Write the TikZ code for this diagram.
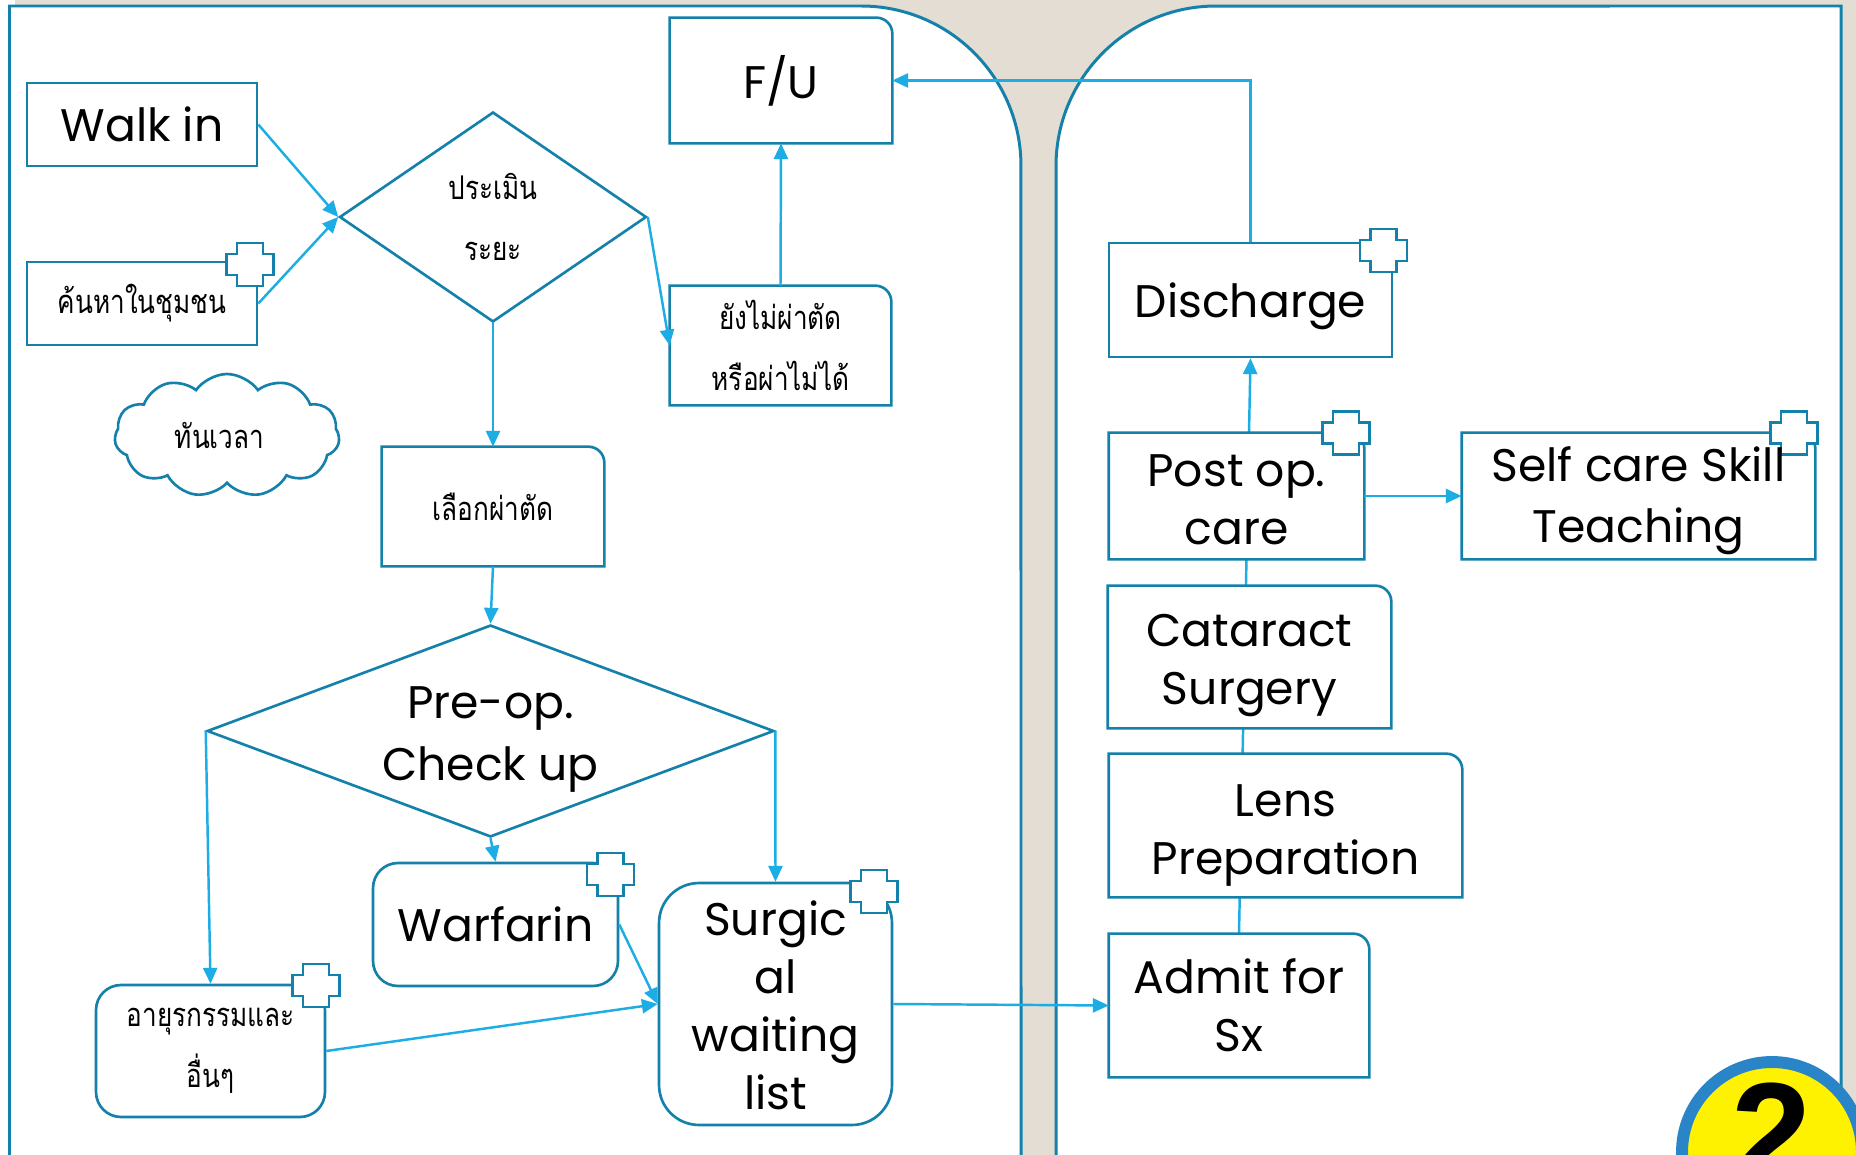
\documentclass[tikz,border=0pt]{standalone}
\usepackage{fontspec}
\setmainfont{Poppins}
\newfontfamily\thaifont[Script=Thai,FakeStretch=0.8]{Loma}
\usetikzlibrary{shapes.geometric,shapes.symbols,arrows.meta,calc,backgrounds}

\definecolor{paneltan}{HTML}{E3DDD3}
\definecolor{boxblue}{HTML}{1481AB}
\definecolor{arrowblue}{HTML}{1CADE4}
\definecolor{badgeblue}{HTML}{2A85C8}
\newcommand{\lowerline}[1]{\rule{0pt}{#1}}

\begin{document}
\begin{tikzpicture}[x=0.02cm,y=-0.02cm]
\tikzset{
	base/.style = { rectangle, text centered, align=center, inner sep=0pt },
	boxed/.style = { base, draw=boxblue, line width=1.5pt, fill=white },
	rounded/.style = { boxed, rounded corners=0.5cm },
	plain/.style = { base, fill=white },
	latintext/.style = { font=\fontsize{26}{33}\selectfont },
	thaitext/.style = { font=\thaifont\fontsize{18.6}{35}\selectfont },
	decision/.style = { diamond, draw=boxblue, line width=1.5pt, fill=white, text centered, align=center, inner sep=0pt },
	arrow/.style = { line width=1.4pt, draw=arrowblue, -{Triangle[length=9pt,width=8pt]} },
	outline/.style = { draw=boxblue, line width=1.5pt },
	plus/.pic = { \draw[outline, fill=white] (-23.5,-10.5) -- (-13,-10.5) -- (-13,-21.5) -- (13,-21.5) -- (13,-10.5) -- (23.5,-10.5) -- (23.5,10.5) -- (13,10.5) -- (13,21.5) -- (-13,21.5) -- (-13,10.5) -- (-23.5,10.5) -- cycle; }
}

	\useasboundingbox (0,0) rectangle (1856,1155);
	\clip (0,0) rectangle (1856,1155);

	% left panel
	\node (walkIn) [boxed, latintext, minimum width=4.6cm, minimum height=1.66cm] at (142,124.5) {Walk in};
	\node (search) [boxed, thaitext, minimum width=4.6cm, minimum height=1.66cm] at (142,303.5) {ค้นหาในชุมชน};
	\node (assess) [decision, thaitext, minimum width=6.14cm, minimum height=4.2cm, aspect=1.46] at (493,217) {ประเมิน\\ระยะ};
	\node (followUp) [plain, latintext, minimum width=4.44cm, minimum height=2.5cm] at (781,80.5) {F/U};
	\node (notYet) [plain, thaitext, minimum width=4.42cm, minimum height=2.38cm] at (780.5,345.5) {ยังไม่ผ่าตัด\\หรือผ่าไม่ได้};
	\node (inTime) [cloud, cloud puffs=11, cloud puff arc=110, aspect=1.8, outline, fill=white, thaitext, align=center, inner sep=0pt, minimum width=4.5cm, minimum height=2.46cm] at (227,435.5) {ทันเวลา\hspace{0.3cm}};
	\node (choose) [plain, thaitext, minimum width=4.44cm, minimum height=2.38cm] at (493,506.5) {เลือกผ่าตัด};
	\node (preOp) [decision, latintext, minimum width=11.34cm, minimum height=4.24cm, aspect=2.67] at (490.5,731) {\lowerline{28pt}Pre-op.\\[2pt]Check up};
	\node (warfarin) [rounded, latintext, minimum width=4.9cm, minimum height=2.46cm] at (495.5,924.5) {Warfarin};
	\node (medicine) [rounded, thaitext, minimum width=4.58cm, minimum height=2.64cm] at (210.5,1051) {อายุรกรรมและ\\อื่นๆ};
	\node (waitList) [rounded, rounded corners=0.8cm, latintext, minimum width=4.66cm, minimum height=4.84cm] at (775.5,1004) {\lowerline{21.6pt}Surgic\\al\\waiting\\list};

	% right panel
	\node (discharge) [boxed, latintext, minimum width=5.66cm, minimum height=2.28cm] at (1250.5,300) {\lowerline{27pt}Discharge};
	\node (postOp) [plain, latintext, minimum width=5.1cm, minimum height=2.52cm] at (1236.5,496) {\lowerline{22pt}Post op.\\care};
	\node (selfCare) [plain, minimum width=7.06cm, minimum height=2.52cm] at (1638.5,496) {};
	\node (cataract) [plain, latintext, minimum width=5.66cm, minimum height=2.84cm] at (1249.5,657) {\lowerline{28.5pt}Cataract\\Surgery};
	\node (lens) [plain, latintext, minimum width=7.06cm, minimum height=2.86cm] at (1285.5,825.5) {\lowerline{30pt}Lens\\Preparation};
	\node (admit) [plain, latintext, minimum width=5.2cm, minimum height=2.86cm] at (1239,1005.5) {Admit for\\Sx};

	% boxes with one round corner
	\foreach \boxname in {followUp,notYet,choose,postOp,selfCare,cataract,lens,admit} {
		\draw [outline] (\boxname.south west) -- (\boxname.north west) -- ($(\boxname.north east)+(-16,0)$) arc[start angle=90,end angle=0,radius=0.32cm] -- (\boxname.south east) -- cycle;
	}

	% crosses
	\pic at (250,264.5) {plus};
	\pic at (610.5,874.5) {plus};
	\pic at (874,891.5) {plus};
	\pic at (316,985.5) {plus};
	\pic at (1383.5,250.5) {plus};
	\pic at (1346,433) {plus};
	\pic at (1794,433) {plus};

	\node (selfCareText) [base, latintext] at (1638.5,496) {\lowerline{25pt}Self care Skill\\[2pt]Teaching};

	% paths
	\draw [arrow] (walkIn.east) -- (assess.west);
	\draw [arrow] (search.east) -- (assess.west);
	\draw [arrow] (assess.east) -- (notYet.west);
	\draw [arrow] (notYet.north) -- (followUp.south);
	\draw [arrow] (assess.south) -- (choose.north);
	\draw [arrow] (choose.south) -- (preOp.north);
	\draw [arrow] (preOp.west) -- (medicine.north);
	\draw [arrow] (preOp.east) -- (waitList.north);
	\draw [arrow] (preOp.south) -- (warfarin.north);
	\draw [arrow] (warfarin.east) -- (waitList.west);
	\draw [arrow] (medicine.east) -- (waitList.west);
	\draw [arrow] (waitList.east) -- (admit.west);
	\draw [arrow] (postOp.east) -- (selfCare.west);
	\draw [arrow] (discharge.north) |- (followUp.east);

	% badge
	\node (badge) [circle, draw=badgeblue, line width=6.8pt, fill=yellow, minimum size=3.6cm, inner sep=0pt, font=\fontspec{Liberation Sans}\bfseries\fontsize{82}{82}\selectfont] at (1772,1152) {\raisebox{0.75cm}{2}};

	% panels go behind everything
	\begin{scope}[on background layer]
		\fill [paneltan] (15,0) rectangle (1856,1155);
		\draw [outline, line width=1.7pt, fill=white] (9.5,1175) -- (9.5,6) -- (861,6) arc[start angle=90,end angle=0,radius=3.2cm] -- (1021,1175);
		\draw [outline, line width=1.7pt, fill=white] (1056,1175) -- (1056,166) arc[start angle=180,end angle=90,radius=3.2cm] -- (1841,6) -- (1841,1175);
		\draw [arrow] (admit.north) -- (discharge.south);
	\end{scope}
\end{tikzpicture}
\end{document}
